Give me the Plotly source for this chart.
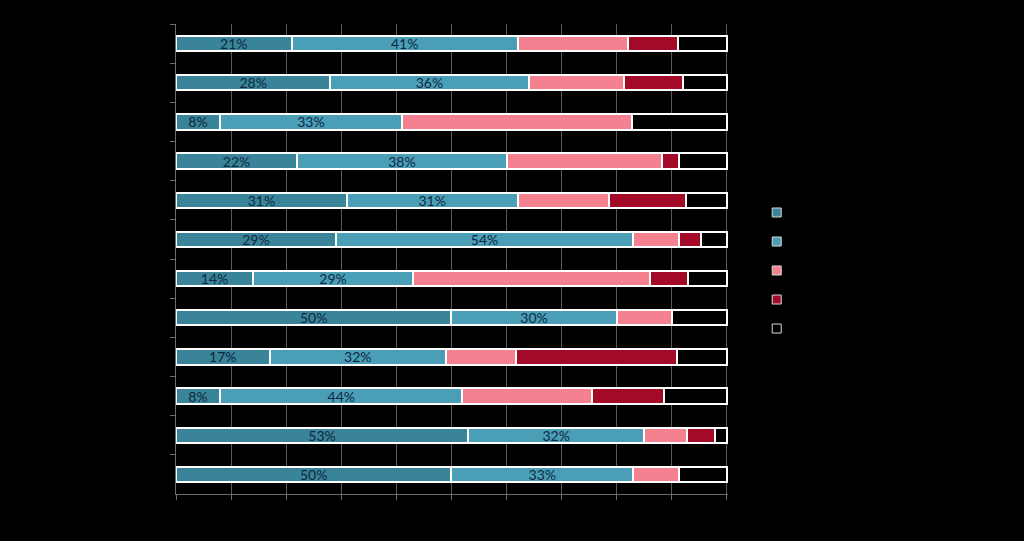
import plotly.graph_objects as go

categories = [f"Item {i}" for i in range(1, 13)]
series_names = ["Series 1", "Series 2", "Series 3", "Series 4", "Series 5"]

s1 = [21, 28, 8, 22, 31, 29, 14, 50, 17, 8, 53, 50]
s2 = [41, 36, 33, 38, 31, 54, 29, 30, 32, 44, 32, 33]
s3 = [20.1, 17.4, 41.7, 28.3, 16.6, 8.3, 43.0, 10.1, 12.8, 23.5, 7.7, 8.3]
s4 = [9.1, 10.7, 0, 3.0, 13.9, 4.0, 7.0, 0, 29.2, 13.0, 5.1, 0]
s5 = [8.8, 7.9, 17.3, 8.7, 7.5, 4.7, 7.0, 9.9, 9.0, 11.5, 2.2, 8.7]

colors = ["#3A8499", "#4A9FB7", "#F5808F", "#A20A27", "#000000"]
values = [s1, s2, s3, s4, s5]

fig = go.Figure()
for i, (name, vals, col) in enumerate(zip(series_names, values, colors)):
    show_text = i < 2
    fig.add_trace(go.Bar(
        y=categories, x=vals, name=name, orientation="h",
        marker=dict(color=col, line=dict(color="#FFFFFF", width=2)),
        width=0.39,
        texttemplate="%{x:.0f}%" if show_text else None,
        textposition="inside" if show_text else "none",
        insidetextanchor="middle",
        textangle=0,
        constraintext="none",
        insidetextfont=dict(color="#0E2841", size=14, family="Lato, Open Sans, sans-serif"),
        hoverinfo="x+name",
        showlegend=False,
        cliponaxis=False,
    ))

# legend entries (small square keys)
for name, col in zip(series_names, colors):
    fig.add_trace(go.Scatter(
        x=[None], y=[None], mode="markers", name=name,
        marker=dict(symbol="square", size=9, color=col,
                    line=dict(color="#D9D9D9", width=1)),
        showlegend=True, hoverinfo="skip",
    ))

fig.update_layout(
    barmode="stack",
    width=1024, height=541,
    paper_bgcolor="#000000", plot_bgcolor="#000000",
    margin=dict(l=176, r=296, t=24, b=47),
    font=dict(family="Lato, Open Sans, sans-serif", color="#000000", size=12),
    showlegend=True,
    legend=dict(
        x=1.052, xanchor="left", y=0.4755, yanchor="middle",
        traceorder="normal",
        font=dict(color="#000000", size=20),
        bgcolor="rgba(0,0,0,0)",
    ),
    xaxis=dict(
        range=[0, 100.2], tickvals=list(range(0, 101, 10)), ticksuffix="%",
        showgrid=True, gridcolor="#5A5A5A", gridwidth=1,
        showline=True, linecolor="#6E6E6E", linewidth=1,
        ticks="outside", ticklen=5, tickcolor="#6E6E6E",
        tickfont=dict(color="#000000"), zeroline=False,
    ),
    yaxis=dict(
        autorange="reversed",
        showgrid=False,
        showline=True, linecolor="#6E6E6E", linewidth=1,
        ticks="outside", ticklen=5, tickcolor="#6E6E6E",
        tickson="boundaries",
        tickfont=dict(color="#000000"),
    ),
)

fig.write_html("out.html")
